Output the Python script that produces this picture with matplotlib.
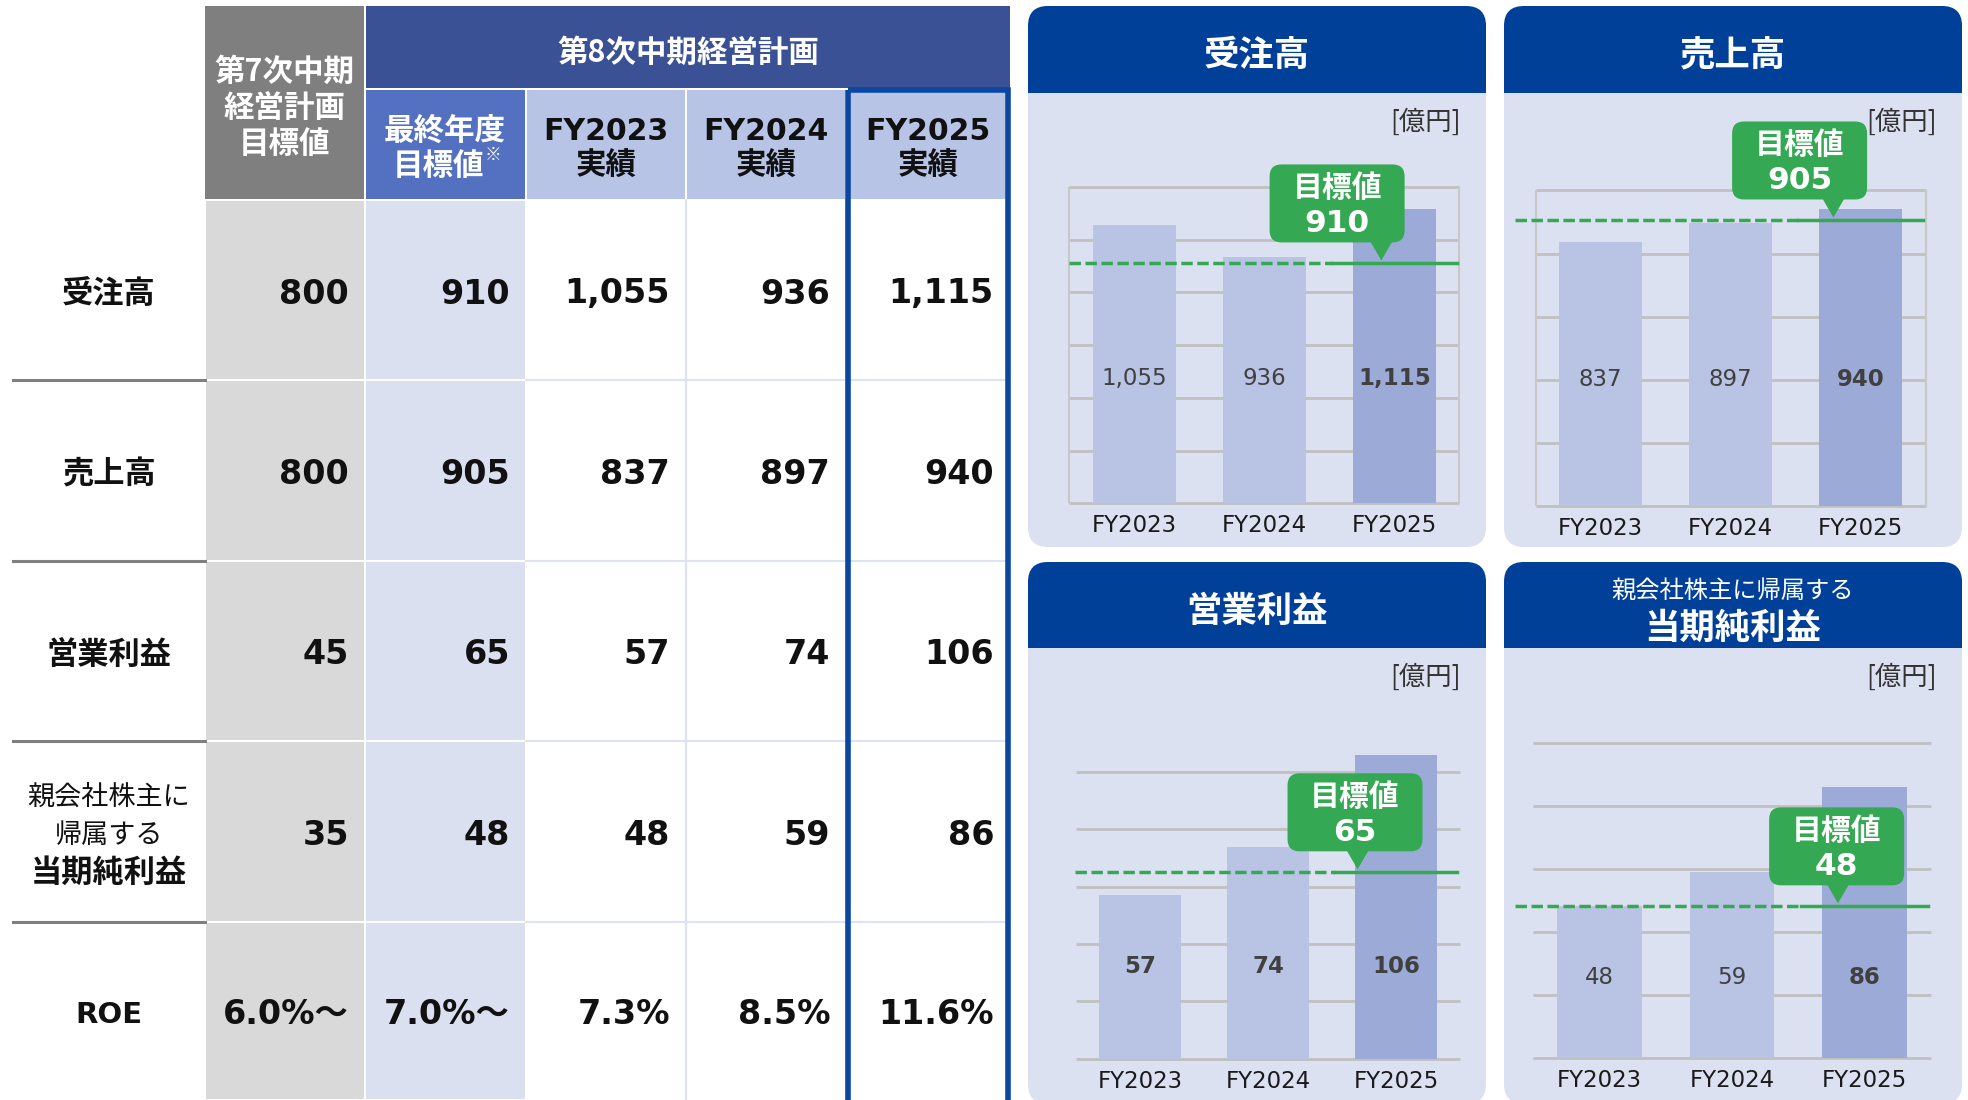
import matplotlib
matplotlib.use('Agg')
import matplotlib.pyplot as plt
from matplotlib.patches import Rectangle, FancyBboxPatch, Polygon

plt.rcParams['font.family'] = ['Noto Sans CJK JP', 'DejaVu Sans']
NUM = ['DejaVu Sans', 'Noto Sans CJK JP']

# ---- data ----
row_labels = ['受注高', '売上高', '営業利益', '当期純利益', 'ROE']
net_prefix = ['親会社株主に', '帰属する']
plan7_target = [800, 800, 45, 35]
plan8_target = [910, 905, 65, 48]
roe = ['6.0%～', '7.0%～', '7.3%', '8.5%', '11.6%']

years = ['FY2023', 'FY2024', 'FY2025']
orders = [1055, 936, 1115]
sales = [837, 897, 940]
op_profit = [57, 74, 106]
net_profit = [48, 59, 86]

chart_titles = [['受注高'], ['売上高'], ['営業利益'], ['親会社株主に帰属する', '当期純利益']]
chart_values = [orders, sales, op_profit, net_profit]
unit = '[億円]'

# ---- colors ----
GREEN = '#35a853'
NAVY = '#004098'
PANEL = '#dbe1f1'
BAR_LIGHT = '#b9c4e4'
BAR_DARK = '#9caad7'

W, H = 1968, 1100
fig = plt.figure(figsize=(W / 100, H / 100), dpi=100)
bg = fig.add_axes([0, 0, 1, 1], zorder=0)
bg.set_xlim(0, W)
bg.set_ylim(H, 0)
bg.axis('off')
over = fig.add_axes([0, 0, 1, 1], zorder=5)
over.set_xlim(0, W)
over.set_ylim(H, 0)
over.axis('off')
over.set_facecolor('none')

# ================= table =================
col_x = [13, 205, 365, 526, 686, 846, 1010]
row_y = [200, 380, 561, 741, 922, 1100]
cell_colors = ['#d9d9d9', '#dae0f0', 'white', 'white', 'white']

table_cols = [plan7_target, plan8_target] + [
    [orders[i], sales[i], op_profit[i], net_profit[i]] for i in range(3)]

for c in range(5):
    x0, x1 = col_x[c + 1], col_x[c + 2]
    for r in range(5):
        y0, y1 = row_y[r], row_y[r + 1]
        bg.add_patch(Rectangle((x0 + 1, y0 + 1), x1 - x0 - 2, y1 - y0 - 2,
                               fc=cell_colors[c], ec='none'))
        if r < 4:
            txt = f'{table_cols[c][r]:,}'
        else:
            txt = roe[c]
        bg.text(x1 - 16, (y0 + y1) / 2 + 4, txt, ha='right', va='center',
                fontsize=24, fontweight='bold', color='#111111', family=NUM)

for x in [686, 846]:
    bg.plot([x, x], [200, 1100], color='#dde3f0', lw=1.5)
for y in row_y[1:-1]:
    bg.plot([526, 1010], [y, y], color='#dde3f0', lw=1.5)
    bg.plot([13, 205], [y, y], color='#7f7f7f', lw=2.2)

# row labels
for r in range(5):
    yc = (row_y[r] + row_y[r + 1]) / 2 + 4
    if r == 3:
        bg.text(109, yc - 37, net_prefix[0], ha='center', va='center', fontsize=19.5, color='#111111')
        bg.text(109, yc, net_prefix[1], ha='center', va='center', fontsize=19.5, color='#111111')
        bg.text(109, yc + 37, row_labels[r], ha='center', va='center', fontsize=22.5,
                fontweight='bold', color='#111111')
    elif r == 4:
        bg.text(109, yc, row_labels[r], ha='center', va='center', fontsize=21,
                fontweight='bold', color='#111111', family=NUM)
    else:
        bg.text(109, yc, row_labels[r], ha='center', va='center', fontsize=22.5,
                fontweight='bold', color='#111111')

# headers
bg.add_patch(Rectangle((205, 6), 159, 193, fc='#7f7f7f', ec='none'))
for i, s in enumerate(['第7次中期', '経営計画', '目標値']):
    bg.text(284.5, 72 + 36 * i, s, ha='center', va='center', fontsize=22,
            fontweight='bold', color='white')
bg.add_patch(Rectangle((366, 6), 644, 82, fc='#3b5196', ec='none'))
bg.text(688, 53, '第8次中期経営計画', ha='center', va='center', fontsize=22,
        fontweight='bold', color='white')
bg.add_patch(Rectangle((366, 90), 159, 109, fc='#5470c0', ec='none'))
bg.text(445, 131, '最終年度', ha='center', va='center', fontsize=22, fontweight='bold', color='white')
bg.text(484, 166, '目標値', ha='right', va='center', fontsize=22, fontweight='bold', color='white')
bg.text(485, 155, '※', ha='left', va='center', fontsize=12, fontweight='bold', color='white')
for i, yr in enumerate(years):
    x0, x1 = col_x[i + 3], col_x[i + 4]
    bg.add_patch(Rectangle((x0 + 1, 90), x1 - x0 - 2, 109, fc='#b8c4e6', ec='none'))
    bg.text((x0 + x1) / 2, 131, yr, ha='center', va='center', fontsize=21.5,
            fontweight='bold', color='#111111', family=NUM)
    bg.text((x0 + x1) / 2, 166, '実績', ha='center', va='center', fontsize=22,
            fontweight='bold', color='#111111')

# highlight of latest year column
bg.add_patch(Rectangle((848, 90), 160, 1020, fc='none', ec='#0a47a0', lw=4, zorder=5))

# ================= bar panels =================
panel_boxes = [(1028, 6, 1486, 547, 93), (1504, 6, 1962, 547, 93),
               (1028, 562, 1486, 1104, 648), (1504, 562, 1962, 1104, 648)]
plot_rects = [(1069.3, 187, 1459.3, 503.3), (1535.7, 190.5, 1925.7, 506.1),
              (1076, 714.7, 1460, 1058.6), (1533.3, 711.1, 1930.7, 1057.5)]
ylims = [1200, 1000, 120, 110]
grid_top = [1200, 1000, 100, 100]
grid_step = [200, 200, 20, 20]
framed = [True, True, False, False]
label_frac = [0.396, 0.40, 0.32, 0.255]
all_bold = [False, False, True, False]
box_x = [1.56, 1.53, 1.68, 1.79]
tip_x = [1.90, 1.79, 1.70, 1.80]
line_start = [-0.5, -0.66, -0.51, -0.64]

for k in range(4):
    x0, y0, x1, y1, hb = panel_boxes[k]
    bg.add_patch(FancyBboxPatch((x0, y0), x1 - x0, y1 - y0,
                                boxstyle='round,pad=0,rounding_size=20', fc=PANEL, ec='none'))
    bg.add_patch(FancyBboxPatch((x0, y0), x1 - x0, hb - y0,
                                boxstyle='round,pad=0,rounding_size=20', fc=NAVY, ec='none'))
    bg.add_patch(Rectangle((x0, hb - 22), x1 - x0, 22, fc=NAVY, ec='none'))
    xc = (x0 + x1) / 2
    if len(chart_titles[k]) == 1:
        bg.text(xc, (y0 + hb) / 2 + 6, chart_titles[k][0], ha='center', va='center',
                fontsize=25.5, fontweight='bold', color='white')
    else:
        bg.text(xc, y0 + 29, chart_titles[k][0], ha='center', va='center',
                fontsize=17.5, color='white')
        bg.text(xc, y0 + 66, chart_titles[k][1], ha='center', va='center',
                fontsize=25.5, fontweight='bold', color='white')
    bg.text(x1 - 25, hb + 29, unit, ha='right', va='center', fontsize=19, color='#333333')

    l, t, r, b = plot_rects[k]
    ax = fig.add_axes([l / W, 1 - b / H, (r - l) / W, (b - t) / H], zorder=2)
    ax.set_facecolor('none')
    ax.set_xlim(-0.5, 2.5)
    ax.set_ylim(0, ylims[k])
    for sp in ax.spines.values():
        sp.set_visible(False)
    ax.hlines(range(0, grid_top[k] + 1, grid_step[k]), -0.5, 2.5, color='#c0c0c0',
              lw=2, zorder=1, clip_on=False)
    if framed[k]:
        ax.vlines([-0.5, 2.5], 0, grid_top[k], color='#c8c8c8', lw=1.6, zorder=1, clip_on=False)
    vals = chart_values[k]
    ax.bar(range(3), vals, width=0.64, color=[BAR_LIGHT, BAR_LIGHT, BAR_DARK], zorder=2)
    for i, v in enumerate(vals):
        bold = all_bold[k] or i == 2
        ax.text(i, label_frac[k] * grid_top[k], f'{v:,}', ha='center', va='center',
                fontsize=16.5, color='#404040', fontweight='bold' if bold else 'normal',
                family=NUM, zorder=3)
    ax.set_yticks([])
    ax.set_xticks(range(3), years)
    ax.tick_params(axis='x', length=0, pad=8, labelsize=16.5, labelcolor='#1a1a1a')
    for lab in ax.get_xticklabels():
        lab.set_fontfamily(NUM)

    # target line
    tgt = plan8_target[k]
    ax.plot([line_start[k], 1.52], [tgt, tgt], color=GREEN, lw=2.5, dashes=(3.3, 1.3),
            clip_on=False, zorder=4)
    ax.plot([1.52, 2.48], [tgt, tgt], color=GREEN, lw=2.5, clip_on=False, zorder=4)

    # callout
    bx, ly = ax.transData.transform((box_x[k], tgt))
    ly = H - ly
    tx, _ = ax.transData.transform((tip_x[k], tgt))
    bw, bh = 135, 78
    bbot = ly - 21
    btop = bbot - bh
    over.add_patch(FancyBboxPatch((bx - bw / 2, btop), bw, bh,
                                  boxstyle='round,pad=0,rounding_size=12', fc=GREEN, ec='none'))
    over.add_patch(Polygon([(tx - 11, bbot - 1), (tx + 11, bbot - 1), (tx, ly - 3)],
                           closed=True, fc=GREEN, ec='none'))
    over.text(bx, btop + 24, '目標値', ha='center', va='center', fontsize=21.5,
              fontweight='bold', color='white')
    over.text(bx, btop + 59, f'{tgt:,}', ha='center', va='center', fontsize=22.5,
              fontweight='bold', color='white', family=NUM)

fig.savefig('out.png', dpi=100)
